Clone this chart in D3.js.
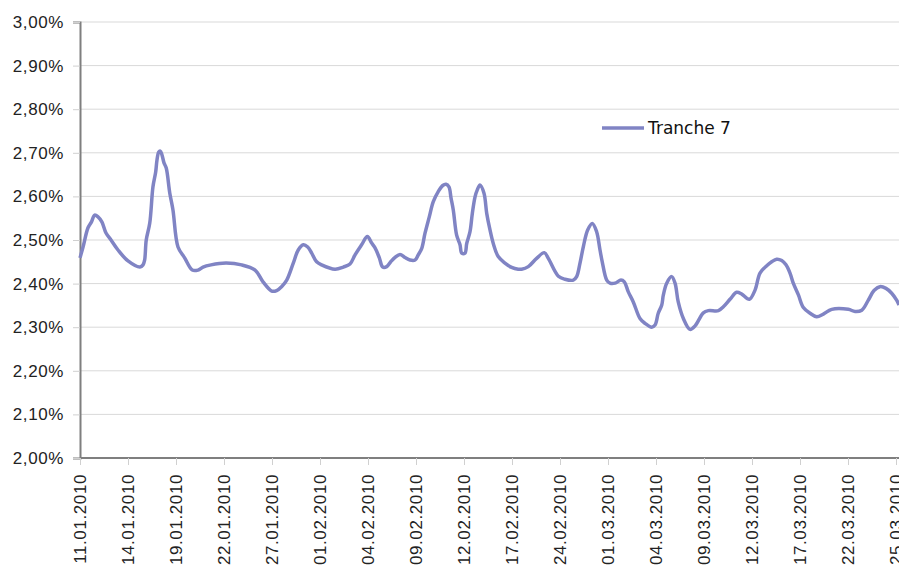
<!DOCTYPE html>
<html>
<head>
<meta charset="utf-8">
<script src="https://cdn.jsdelivr.net/npm/d3@7/dist/d3.min.js"></script>
<style>
  html, body { margin: 0; padding: 0; background: #fff; }
  svg { display: block; font-family: "DejaVu Sans", sans-serif; }
</style>
</head>
<body>
<div id="chart"></div>
<script>
// tick labels, one every 3 trading days starting 11.01.2010
const tickLabels = ['11.01.2010', '14.01.2010', '19.01.2010', '22.01.2010', '27.01.2010',
  '01.02.2010', '04.02.2010', '09.02.2010', '12.02.2010', '17.02.2010', '24.02.2010',
  '01.03.2010', '04.03.2010', '09.03.2010', '12.03.2010', '17.03.2010', '22.03.2010', '25.03.2010'];

// position of each reading, in trading days after 11.01.2010
const dayPos = [0, 0.19, 0.5, 0.71, 0.92, 1.125, 1.375, 1.625, 1.94, 2.375,
  3.0, 3.75, 3.94, 4.04, 4.14, 4.36, 4.56, 4.73, 4.81, 4.92,
  5.02, 5.125, 5.25, 5.39, 5.61, 5.81, 6.125, 6.54, 7.02, 7.375,
  7.69, 8.19, 9.125, 10.1, 10.94, 11.44, 11.98, 12.29, 12.6, 12.92,
  13.33, 13.64, 13.96, 14.23, 14.48, 14.79, 15.1, 15.94, 16.46, 16.875,
  17.19, 17.6, 17.96, 18.23, 18.44, 18.71, 18.92, 19.17, 19.42, 19.69,
  20.0, 20.31, 20.625, 20.94, 21.14, 21.36, 21.56, 21.83, 22.08, 22.39,
  22.67, 22.875, 23.06, 23.19, 23.33, 23.54, 23.75, 23.86, 24.06, 24.17,
  24.375, 24.52, 24.69, 24.83, 25.0, 25.25, 25.42, 25.625, 25.83, 26.14,
  26.56, 26.98, 27.39, 27.6, 28.02, 28.54, 29.02, 29.27, 29.9, 30.31,
  30.83, 31.04, 31.25, 31.46, 31.73, 32.02, 32.29, 32.5, 32.64, 32.92,
  33.125, 33.44, 33.81, 34.02, 34.27, 34.58, 35.0, 35.31, 35.73, 35.94,
  36.14, 36.36, 36.46, 36.67, 36.98, 37.19, 37.39, 37.71, 38.125, 38.44,
  38.96, 39.27, 39.9, 40.21, 40.625, 41.04, 41.36, 41.83, 42.19, 42.5,
  42.92, 43.23, 43.54, 43.86, 44.125, 44.375, 44.58, 44.9, 45.21, 45.625,
  46.04, 46.46, 46.98, 48.02, 48.44, 48.86, 49.27, 49.625, 50.0, 50.375,
  50.73, 51.04, 51.19];

// Tranche 7 rate in percent
const tranche7 = [2.459, 2.484, 2.528, 2.541, 2.557, 2.553, 2.541, 2.516, 2.500, 2.477,
  2.452, 2.438, 2.443, 2.454, 2.500, 2.539, 2.622, 2.656, 2.683, 2.702,
  2.704, 2.695, 2.677, 2.665, 2.608, 2.569, 2.484, 2.459, 2.431, 2.431,
  2.438, 2.443, 2.447, 2.443, 2.431, 2.404, 2.383, 2.384, 2.393, 2.408,
  2.447, 2.477, 2.489, 2.484, 2.470, 2.450, 2.443, 2.433, 2.438, 2.445,
  2.466, 2.489, 2.508, 2.493, 2.482, 2.459, 2.438, 2.439, 2.450, 2.460,
  2.467, 2.460, 2.454, 2.454, 2.466, 2.481, 2.515, 2.553, 2.588, 2.611,
  2.625, 2.628, 2.622, 2.596, 2.569, 2.511, 2.489, 2.470, 2.470, 2.492,
  2.519, 2.561, 2.599, 2.615, 2.626, 2.607, 2.561, 2.523, 2.492, 2.462,
  2.447, 2.437, 2.433, 2.433, 2.439, 2.458, 2.471, 2.458, 2.417, 2.410,
  2.408, 2.416, 2.447, 2.485, 2.523, 2.538, 2.519, 2.477, 2.450, 2.408,
  2.401, 2.401, 2.408, 2.404, 2.381, 2.358, 2.320, 2.309, 2.300, 2.305,
  2.332, 2.351, 2.374, 2.401, 2.416, 2.401, 2.358, 2.320, 2.295, 2.303,
  2.333, 2.338, 2.338, 2.347, 2.364, 2.380, 2.376, 2.364, 2.385, 2.424,
  2.441, 2.450, 2.456, 2.453, 2.443, 2.424, 2.401, 2.374, 2.345, 2.332,
  2.324, 2.330, 2.341, 2.341, 2.336, 2.339, 2.362, 2.384, 2.393, 2.389,
  2.378, 2.362, 2.351];

const yTicks = [2.0, 2.1, 2.2, 2.3, 2.4, 2.5, 2.6, 2.7, 2.8, 2.9, 3.0];
const seriesName = 'Tranche 7';

const width = 899, height = 567;
const margin = { left: 80, top: 22, bottom: 109 };

const svg = d3.select('#chart')
  .append('svg')
  .attr('width', width)
  .attr('height', height);

const x = d3.scaleLinear()
  .domain([0, 51])
  .range([margin.left, 896]);

const y = d3.scaleLinear()
  .domain([2.0, 3.0])
  .range([height - margin.bottom, margin.top]);

const fmt = (v) => v.toFixed(2).replace('.', ',') + '%';

// GRID
svg.append('g')
  .selectAll('line')
  .data(yTicks.slice(1))
  .enter()
  .append('line')
    .attr('x1', margin.left)
    .attr('x2', width)
    .attr('y1', (d) => y(d))
    .attr('y2', (d) => y(d))
    .attr('stroke', '#d9d9d9')
    .attr('stroke-width', 1);

// Y AXIS
const yAxis = d3.axisLeft(y)
  .tickValues(yTicks)
  .tickSize(7)
  .tickPadding(9)
  .tickFormat(fmt);

const gy = svg.append('g')
  .attr('transform', `translate(${margin.left}, 0)`)
  .call(yAxis);
gy.select('.domain').attr('stroke', '#7f7f7f').attr('stroke-width', 2);
gy.selectAll('.tick line').attr('stroke', '#d0d0d0');
gy.selectAll('.tick text')
  .attr('fill', '#222')
  .style('font-size', '17px')
  .style('letter-spacing', '0.6px');

// X AXIS
const xAxis = d3.axisBottom(x)
  .tickValues(tickLabels.map((d, i) => i * 3))
  .tickSize(7)
  .tickFormat((d) => tickLabels[d / 3]);

const gx = svg.append('g')
  .attr('transform', `translate(0, ${y(2.0)})`)
  .call(xAxis);
gx.select('.domain')
  .attr('d', `M${margin.left},0H${width}`)
  .attr('stroke', '#7f7f7f')
  .attr('stroke-width', 2);
gx.selectAll('.tick line').attr('stroke', '#d0d0d0');
gx.selectAll('.tick text')
  .attr('fill', '#222')
  .style('font-size', '17px')
  .style('letter-spacing', '0.6px')
  .attr('text-anchor', 'end')
  .attr('dy', '0.35em')
  .attr('transform', 'translate(0, 16) rotate(-90)')
  .attr('x', 0)
  .attr('y', 0);

// LINE
const line = d3.line()
  .x((d) => x(d[0]))
  .y((d) => y(d[1]))
  .curve(d3.curveCatmullRom.alpha(0.5));

svg.append('path')
  .datum(dayPos.map((p, i) => [p, tranche7[i]]))
  .attr('fill', 'none')
  .attr('stroke', '#8084c4')
  .attr('stroke-width', 3.5)
  .attr('stroke-linejoin', 'round')
  .attr('d', line);

// LEGEND
const legend = svg.append('g')
  .attr('transform', 'translate(602, 128)');
legend.append('line')
  .attr('x1', 0).attr('x2', 42)
  .attr('y1', 0).attr('y2', 0)
  .attr('stroke', '#8084c4')
  .attr('stroke-width', 3.5);
legend.append('text')
  .attr('x', 46)
  .attr('y', 0)
  .attr('dy', '0.35em')
  .attr('fill', '#111')
  .style('font-size', '17px')
  .text(seriesName);
</script>
</body>
</html>
